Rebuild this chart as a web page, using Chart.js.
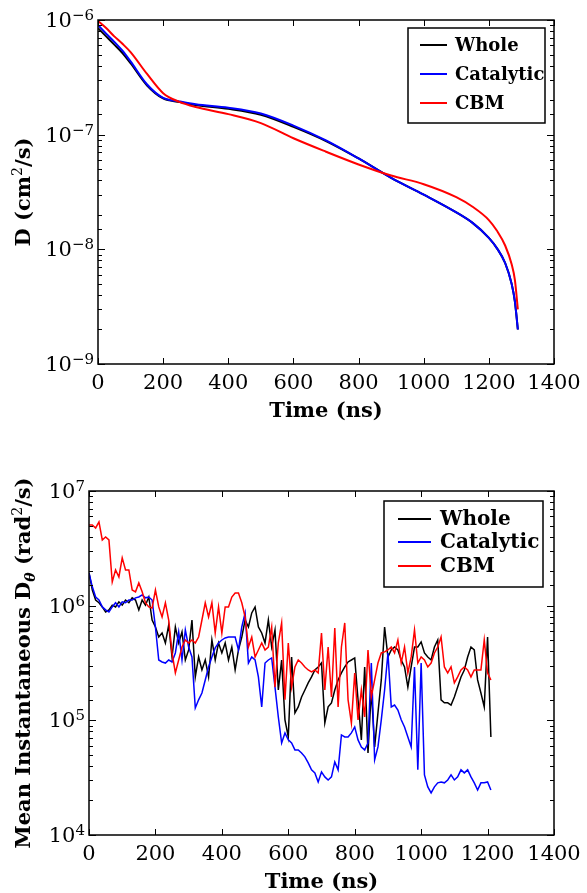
<!DOCTYPE html>
<html>
<head>
<meta charset="utf-8">
<script src="https://cdn.jsdelivr.net/npm/chart.js@4.4.1/dist/chart.umd.min.js"></script>
<style>
  html, body { margin: 0; padding: 0; background: #fff; }
  #wrap { position: relative; width: 587px; height: 893px; }
  canvas { position: absolute; left: 0; }
</style>
</head>
<body>
<div id="wrap">
  <canvas id="topChart" width="587" height="440" style="top:0"></canvas>
  <canvas id="bottomChart" width="587" height="453" style="top:440px"></canvas>
</div>
<script>
const seriesNames = ["Whole", "Catalytic", "CBM"]
const seriesColors = ["#000000", "#0000ff", "#ff0000"]
const timeTicks = [0, 200, 400, 600, 800, 1000, 1200, 1400]

// translational diffusion D (cm^2/s)
const dTimes = [0, 25, 50, 75, 100, 150, 200, 250, 300, 400, 500, 600, 700, 800, 900, 1000, 1100, 1150, 1200, 1225, 1250, 1270, 1280, 1289]
const dWhole = [8.5e-7, 7.2e-7, 6.1e-7, 5.15e-7, 4.2e-7, 2.7e-7, 2.07e-7, 1.93e-7, 1.81e-7, 1.68e-7, 1.49e-7, 1.17e-7, 8.8e-8, 6.2e-8, 4.2e-8, 3.0e-8, 2.1e-8, 1.7e-8, 1.26e-8, 1.02e-8, 7.6e-9, 5.0e-9, 3.5e-9, 2.0e-9]
const dCatalytic = [9.04e-7, 7.6e-7, 6.45e-7, 5.4e-7, 4.35e-7, 2.75e-7, 2.09e-7, 1.95e-7, 1.84e-7, 1.72e-7, 1.53e-7, 1.2e-7, 8.9e-8, 6.2e-8, 4.2e-8, 3.0e-8, 2.1e-8, 1.7e-8, 1.26e-8, 1.02e-8, 7.6e-9, 5.0e-9, 3.5e-9, 2.0e-9]
const dCbm = [9.8e-7, 8.5e-7, 7.2e-7, 6.2e-7, 5.25e-7, 3.4e-7, 2.3e-7, 1.93e-7, 1.74e-7, 1.51e-7, 1.26e-7, 9.3e-8, 7.1e-8, 5.5e-8, 4.4e-8, 3.7e-8, 2.85e-8, 2.35e-8, 1.8e-8, 1.45e-8, 1.08e-8, 7.4e-9, 5.4e-9, 3.0e-9]

// mean instantaneous rotational diffusion D_theta (rad^2/s)
const rTimes = [0, 10, 20, 30, 40, 50, 60, 70, 80, 90, 100, 110, 120, 130, 140, 150, 160, 170, 180, 190, 200, 210, 220, 230, 240, 250, 260, 270, 280, 290, 300, 310, 320, 330, 340, 350, 360, 370, 380, 390, 400, 410, 420, 430, 440, 450, 460, 470, 480, 490, 500, 510, 520, 530, 540, 550, 560, 570, 580, 590, 600, 610, 620, 630, 640, 650, 660, 670, 680, 690, 700, 710, 720, 730, 740, 750, 760, 770, 780, 790, 800, 810, 820, 830, 840, 850, 860, 870, 880, 890, 900, 910, 920, 930, 940, 950, 960, 970, 980, 990, 1000, 1010, 1020, 1030, 1040, 1050, 1060, 1070, 1080, 1090, 1100, 1110, 1120, 1130, 1140, 1150, 1160, 1170, 1180, 1190, 1200, 1210]
const rWhole = [1.93e6, 1.37e6, 1.12e6, 1.06e6, 9.75e5, 8.81e5, 9.18e5, 1.01e6, 9.75e5, 1.08e6, 1.01e6, 1.12e6, 1.06e6, 1.17e6, 1.12e6, 9.18e5, 1.12e6, 1.01e6, 1.19e6, 7.5e5,
  6.52e5, 5.33e5, 5.78e5, 4.73e5, 6.79e5, 3.57e5, 6.52e5, 4.73e5, 5.9e5, 3.36e5, 4.11e5, 7.5e5, 2.39e5, 3.57e5, 2.75e5, 3.36e5, 2.39e5, 5.02e5, 3.36e5, 4.73e5,
  3.87e5, 4.73e5, 3.36e5, 4.36e5, 2.75e5, 4.11e5, 5.33e5, 7.5e5, 6.52e5, 8.64e5, 9.75e5, 6.52e5, 5.78e5, 4.73e5, 7.5e5, 4.36e5, 6.14e5, 1.84e5, 3.36e5, 1.01e5,
  7.17e4, 3.57e5, 1.16e5, 1.31e5, 1.6e5, 1.84e5, 2.12e5, 2.39e5, 2.75e5, 2.92e5, 3.16e5, 9.49e4, 1.31e5, 1.42e5, 1.84e5, 2.25e5, 2.59e5, 2.92e5, 3.23e5, 3.36e5,
  3.5e5, 1.51e5, 6.75e4, 2.92e5, 5.2e4, 1.84e5, 5.86e4, 1.16e5, 2.25e5, 6.52e5, 3.57e5, 4.11e5, 4.36e5, 4.11e5, 3.36e5, 2.92e5, 1.95e5, 2.92e5, 4.36e5, 4.36e5,
  4.83e5, 3.87e5, 3.57e5, 3.36e5, 4.36e5, 5.02e5, 1.51e5, 1.42e5, 1.42e5, 1.36e5, 1.6e5, 1.95e5, 2.39e5, 2.75e5, 3.57e5, 4.36e5, 4.11e5, 2.25e5, 1.73e5, 1.31e5,
  5.33e5, 7.17e4]
const rCatalytic = [1.93e6, 1.46e6, 1.19e6, 1.12e6, 9.75e5, 9.18e5, 8.81e5, 9.75e5, 1.06e6, 9.75e5, 1.08e6, 1.06e6, 1.12e6, 1.12e6, 1.17e6, 1.19e6, 1.24e6, 1.17e6, 1.19e6, 1.12e6,
  6.52e5, 3.36e5, 3.23e5, 3.16e5, 3.36e5, 3.23e5, 3.87e5, 5.9e5, 3.36e5, 6.14e5, 4.36e5, 3.57e5, 1.28e5, 1.51e5, 1.73e5, 2.25e5, 2.92e5, 3.57e5, 4.28e5, 4.73e5,
  5.02e5, 5.23e5, 5.33e5, 5.33e5, 5.33e5, 4.11e5, 6.52e5, 8.64e5, 3.16e5, 3.57e5, 3.36e5, 2.39e5, 1.31e5, 3.16e5, 3.36e5, 3.5e5, 1.95e5, 1.07e5, 6.35e4, 7.77e4,
  6.75e4, 6.35e4, 5.52e4, 5.52e4, 5.2e4, 4.8e4, 4.25e4, 3.7e4, 3.48e4, 2.9e4, 3.55e4, 3.21e4, 3.02e4, 3.21e4, 4.34e4, 3.7e4, 7.46e4, 7.17e4, 7.17e4, 7.77e4,
  8.76e4, 6.75e4, 5.86e4, 5.52e4, 6.35e4, 3.16e5, 4.52e4, 5.86e4, 1.01e5, 1.84e5, 3.87e5, 1.31e5, 1.36e5, 1.23e5, 1.01e5, 8.76e4, 7.17e4, 5.86e4, 2.92e5, 3.7e4,
  3.16e5, 3.34e4, 2.63e4, 2.33e4, 2.63e4, 2.85e4, 2.9e4, 2.85e4, 3.02e4, 3.34e4, 3.02e4, 3.21e4, 3.7e4, 3.48e4, 3.7e4, 3.21e4, 2.85e4, 2.47e4, 2.85e4, 2.85e4,
  2.9e4, 2.47e4]
const rCbm = [5.06e6, 5.06e6, 4.76e6, 5.37e6, 3.74e6, 3.97e6, 3.74e6, 1.61e6, 2.05e6, 1.78e6, 2.61e6, 2.05e6, 2.05e6, 1.37e6, 1.32e6, 1.58e6, 1.32e6, 1.06e6, 9.75e5, 9.55e5,
  1.37e6, 9.75e5, 7.97e5, 1.06e6, 7.5e5, 3.87e5, 2.59e5, 3.36e5, 4.36e5, 5.02e5, 4.73e5, 5.02e5, 4.73e5, 5.33e5, 7.5e5, 1.06e6, 7.97e5, 1.06e6, 5.78e5, 9.75e5,
  5.78e5, 9.75e5, 9.75e5, 1.19e6, 1.29e6, 1.29e6, 1.06e6, 7.97e5, 4.36e5, 5.33e5, 3.57e5, 4.11e5, 4.73e5, 4.11e5, 4.36e5, 6.52e5, 1.95e5, 4.73e5, 7.07e5, 1.51e5,
  4.73e5, 1.95e5, 2.92e5, 3.36e5, 3.16e5, 2.92e5, 2.75e5, 2.64e5, 2.75e5, 2.59e5, 5.78e5, 1.84e5, 4.36e5, 1.6e5, 6.39e5, 1.31e5, 4.36e5, 7.07e5, 1.51e5, 9.49e4,
  2.59e5, 1.01e5, 1.84e5, 1.07e5, 4.11e5, 1.6e5, 2.25e5, 3.16e5, 3.87e5, 3.95e5, 4.11e5, 4.36e5, 3.87e5, 5.02e5, 3.16e5, 4.36e5, 2.59e5, 3.57e5, 6.14e5, 3.16e5,
  3.57e5, 3.36e5, 2.92e5, 3.16e5, 3.87e5, 4.36e5, 5.33e5, 2.92e5, 2.59e5, 2.92e5, 2.12e5, 2.39e5, 2.75e5, 2.92e5, 2.75e5, 2.39e5, 2.75e5, 2.75e5, 2.75e5, 5.02e5,
  2.59e5, 2.25e5]

const SERIF = '"DejaVu Serif", "Liberation Serif", serif'

function isPow10(v) {
  const l = Math.log10(v)
  return Math.abs(l - Math.round(l)) < 1e-6
}

function drawRich(ctx, parts, x, y, align) {
  let total = 0
  parts.forEach(p => { ctx.font = p.font; p.w = ctx.measureText(p.t).width; total += p.w })
  let cx = align === "right" ? x - total : align === "center" ? x - total / 2 : x
  parts.forEach(p => {
    ctx.font = p.font
    ctx.fillText(p.t, cx, y + (p.dy || 0))
    cx += p.w
  })
}

// inward ticks, frame, tick labels, axis titles and the legend box
const axesDecor = {
  id: "axesDecor",
  afterDatasetsDraw(chart, args, opts) {
    const { ctx, chartArea: a, scales: { x, y } } = chart
    ctx.save()
    ctx.strokeStyle = "#000"
    ctx.fillStyle = "#000"
    ctx.lineWidth = 1
    const seg = (x1, y1, x2, y2) => { ctx.beginPath(); ctx.moveTo(x1, y1); ctx.lineTo(x2, y2); ctx.stroke() }

    x.ticks.forEach(t => {
      const px = Math.round(x.getPixelForValue(t.value)) + 0.5
      seg(px, a.bottom, px, a.bottom - 6)
      seg(px, a.top, px, a.top + 6)
    })
    y.ticks.forEach(t => {
      const py = Math.round(y.getPixelForValue(t.value)) + 0.5
      const len = isPow10(t.value) ? 7 : 4
      seg(a.left, py, a.left + len, py)
      seg(a.right, py, a.right - len, py)
    })

    ctx.lineWidth = 1.5
    ctx.strokeRect(a.left, a.top, a.right - a.left, a.bottom - a.top)

    // x tick labels
    ctx.textBaseline = "alphabetic"
    ctx.textAlign = "left"
    x.ticks.forEach(t => {
      const px = x.getPixelForValue(t.value)
      drawRich(ctx, [{ t: String(t.value), font: "21px " + SERIF }], px, a.bottom + 25, "center")
    })
    // y tick labels, powers of ten
    y.ticks.forEach(t => {
      if (!isPow10(t.value)) return
      const e = Math.round(Math.log10(t.value))
      const py = y.getPixelForValue(t.value)
      drawRich(ctx, [
        { t: "10", font: "21px " + SERIF, dy: 7 },
        { t: String(e).replace("-", "\u2212"), font: "15px " + SERIF, dy: 0 }
      ], a.left - 4, py, "right")
    })

    // axis titles
    drawRich(ctx, [{ t: "Time (ns)", font: "bold 21px " + SERIF }], (a.left + a.right) / 2, a.bottom + 53, "center")
    ctx.save()
    ctx.translate(30, (a.top + a.bottom) / 2)
    ctx.rotate(-Math.PI / 2)
    drawRich(ctx, opts.yTitle, 0, 0, "center")
    ctx.restore()

    // legend
    const L = opts.legend
    const bx = a.right - L.right - L.w, by = a.top + L.top
    ctx.fillStyle = "#fff"
    ctx.fillRect(bx, by, L.w, L.h)
    ctx.lineWidth = 1.5
    ctx.strokeStyle = "#000"
    ctx.strokeRect(bx, by, L.w, L.h)
    ctx.textBaseline = "middle"
    seriesNames.forEach((name, i) => {
      const ry = by + L.rows[i]
      ctx.strokeStyle = seriesColors[i]
      ctx.lineWidth = 2
      seg(bx + L.line[0], ry, bx + L.line[1], ry)
      ctx.fillStyle = "#000"
      ctx.font = "bold " + L.size + "px " + SERIF
      ctx.fillText(name, bx + L.text, ry + 1)
    })
    ctx.restore()
  }
}

function pairs(xs, ys) {
  return ys.map((v, i) => ({ x: xs[i], y: v }))
}

function makeChart(canvasId, cfg) {
  const datasets = cfg.series.map((vals, i) => ({
    label: seriesNames[i],
    data: pairs(cfg.times, vals),
    borderColor: seriesColors[i],
    borderWidth: cfg.lineWidth,
    pointRadius: 0,
    fill: false,
    tension: cfg.smooth ? 0.4 : 0,
    cubicInterpolationMode: cfg.smooth ? "monotone" : "default",
    order: 2 - i
  }))
  return new Chart(document.getElementById(canvasId), {
    type: "line",
    data: { datasets },
    options: {
      responsive: false,
      animation: false,
      events: [],
      layout: { padding: { top: cfg.padTop, right: 33, left: 0, bottom: 0 } },
      plugins: {
        legend: { display: false },
        tooltip: { enabled: false },
        axesDecor: { yTitle: cfg.yTitle, legend: cfg.legend }
      },
      scales: {
        x: {
          type: "linear",
          min: timeTicks[0],
          max: timeTicks[timeTicks.length - 1],
          ticks: { display: false, stepSize: 200 },
          grid: { display: false, drawTicks: false },
          border: { display: false },
          afterFit: s => { s.height = cfg.xHeight }
        },
        y: {
          type: "logarithmic",
          min: cfg.yMin,
          max: cfg.yMax,
          ticks: { display: false },
          grid: { display: false, drawTicks: false },
          border: { display: false },
          afterFit: s => { s.width = cfg.yWidth }
        }
      }
    },
    plugins: [axesDecor]
  })
}

makeChart("topChart", {
  times: dTimes,
  series: [dWhole, dCatalytic, dCbm],
  yMin: 1e-9, yMax: 1e-6,
  smooth: true, lineWidth: 2,
  padTop: 20, xHeight: 76, yWidth: 98,
  yTitle: [
    { t: "D (cm", font: "bold 21px " + SERIF },
    { t: "2", font: "14px " + SERIF, dy: -8 },
    { t: "/s)", font: "bold 21px " + SERIF }
  ],
  legend: { w: 137, h: 95, right: 9, top: 8, rows: [17, 46, 75], line: [12, 39], text: 47, size: 18 }
})

makeChart("bottomChart", {
  times: rTimes,
  series: [rWhole, rCatalytic, rCbm],
  yMin: 1e4, yMax: 1e7,
  smooth: false, lineWidth: 1.5,
  padTop: 51, xHeight: 58, yWidth: 89,
  yTitle: [
    { t: "Mean Instantaneous D", font: "bold 21px " + SERIF },
    { t: "\u03b8", font: "italic bold 14px " + SERIF, dy: 5 },
    { t: " (rad", font: "bold 21px " + SERIF },
    { t: "2", font: "14px " + SERIF, dy: -8 },
    { t: "/s)", font: "bold 21px " + SERIF }
  ],
  legend: { w: 159, h: 86, right: 11, top: 10, rows: [18, 41, 65], line: [14, 47], text: 56, size: 20 }
})
</script>
</body>
</html>
